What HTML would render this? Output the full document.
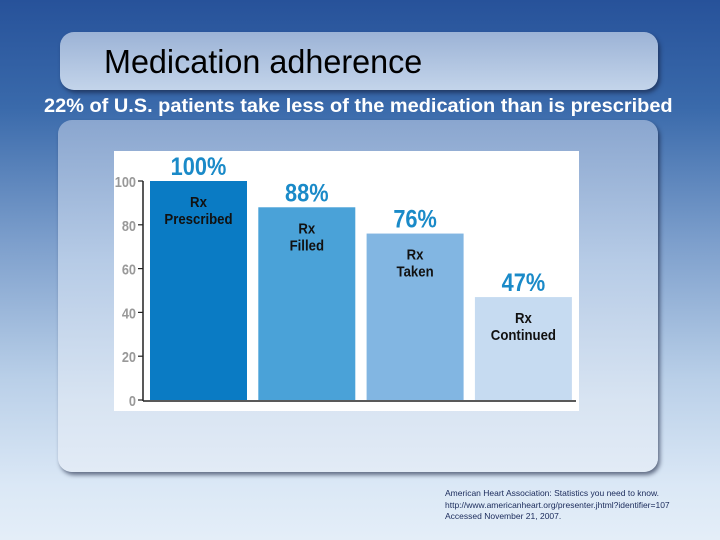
<!DOCTYPE html>
<html><head><meta charset="utf-8">
<style>
html,body{margin:0;padding:0}
body{width:720px;height:540px;position:relative;overflow:hidden;font-family:"Liberation Sans",sans-serif;
background:linear-gradient(180deg,#27529a 0%,#3a6aab 20%,#7d9fcc 45%,#b9cfe8 70%,#dbe8f6 90%,#e4eef8 100%);}
.panel{position:absolute;border-radius:14px;box-shadow:2px 3px 4px rgba(20,30,60,0.6);}
#title-box{left:60px;top:32px;width:598px;height:58px;background:linear-gradient(180deg,#9cb3d6,#c3d4ea);}
#content-box{left:58px;top:120px;width:600px;height:352px;background:linear-gradient(180deg,#8aa6cf 0%,#b6cbe6 40%,#d8e4f2 80%,#e2ebf6 100%);}
#title{position:absolute;left:104px;top:43px;font-size:33px;color:#000;white-space:nowrap;transform:scaleX(0.98);transform-origin:left;}
#subtitle{position:absolute;left:44px;top:96px;font-size:19px;color:#fff;white-space:nowrap;font-weight:bold;transform:scaleX(1.05);transform-origin:left;}
#source{position:absolute;left:445px;top:488px;font-size:8.5px;line-height:11.5px;color:#1a2a5a;white-space:nowrap;}
svg{position:absolute;left:0;top:0}
</style></head><body>
<div class="panel" id="title-box"></div>
<div id="title">Medication adherence</div>
<div id="subtitle">22% of U.S. patients take less of the medication than is prescribed</div>
<div class="panel" id="content-box"></div>
<svg id="chart" width="720" height="540"></svg>
<div id="source">American Heart Association: Statistics you need to know.<br>http://www.americanheart.org/presenter.jhtml?identifier=107<br>Accessed November 21, 2007.</div>
<script>
const categories=[["Rx","Prescribed"],["Rx","Filled"],["Rx","Taken"],["Rx","Continued"]];
const values=[100,88,76,47];
const valueLabels=["100%","88%","76%","47%"];
const ticks=[0,20,40,60,80,100];
const colors=["#0a7bc4","#4aa2d8","#82b6e2","#c6dbf1"];
const NS="http://www.w3.org/2000/svg";
const svg=document.getElementById("chart");
const y0=400,y100=181,xStart=150,stride=108.3,bw=97;
const Y=v=>y0-(y0-y100)*v/100;
const X=i=>xStart+i*stride;
function mk(t,a){const e=document.createElementNS(NS,t);for(const k in a)e.setAttribute(k,a[k]);svg.appendChild(e);return e;}
const bg=mk("rect",{x:114,y:151,width:465,height:260,fill:"#ffffff"});


const ax=mk("line",{x1:143,y1:Y(100),x2:143,y2:y0+1,stroke:"#222","stroke-width":1.5});


const bx=mk("line",{x1:143,y1:y0+1,x2:576,y2:y0+1,stroke:"#222","stroke-width":1.5});


ticks.forEach(t=>{
  const tk=mk("line",{x1:138,y1:Y(t),x2:143,y2:Y(t),stroke:"#222","stroke-width":1.2});
  
  
  const tl=mk("text",{x:136,y:Y(t)+6,"text-anchor":"end","font-size":"15","font-weight":"bold","fill":"#999","font-family":"Liberation Sans, sans-serif",transform:"translate("+(136*0.15)+",0) scale(0.85,1)"});
  tl.textContent=t;
  
  
});
values.forEach((v,i)=>{
  const x=X(i);
  const cx=x+bw/2;
  const r=mk("rect",{x:x,y:Y(v),width:bw,height:y0-Y(v),fill:colors[i]});
  
  
  const vl=mk("text",{x:cx,y:Y(v)-6,"text-anchor":"middle","font-size":"25","font-weight":"bold","fill":"#1a8ac8","font-family":"Liberation Sans, sans-serif",transform:"translate("+(cx*0.13)+",0) scale(0.87,1)"});
  vl.textContent=valueLabels[i];
  
  
  categories[i].forEach((s,j)=>{
    const cl=mk("text",{x:cx,y:Y(v)+26+j*17,"text-anchor":"middle","font-size":"15","font-weight":"bold","fill":"#111","font-family":"Liberation Sans, sans-serif",transform:"translate("+(cx*0.12)+",0) scale(0.88,1)"});
    cl.textContent=s;
    
    
  });
});
</script>
</body></html>
